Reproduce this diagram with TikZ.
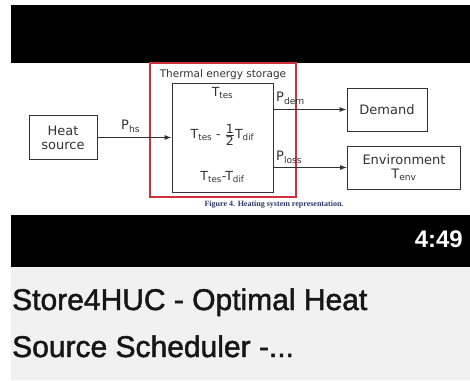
\documentclass[tikz,border=0pt]{standalone}
\usepackage{fontspec}
\setmainfont{DejaVu Sans}
\newfontfamily\titlefont{Liberation Sans}
\newfontfamily\titlemed{Liberation Sans}[FakeBold=1.6]
\newfontfamily\capfont{Liberation Serif}
\usetikzlibrary{arrows.meta}
\definecolor{ink}{HTML}{333333}
\definecolor{redbox}{HTML}{D0303A}
\definecolor{pagegray}{HTML}{F1F1F1}
\definecolor{captionblue}{HTML}{2B3A6B}
\definecolor{titleink}{HTML}{161616}
\tikzset{
  blockbox/.style={draw=ink, line width=0.9pt, rectangle, inner sep=0pt, align=center, text=ink, font=\fontsize{13}{15}\selectfont},
  flow/.style={draw=ink, line width=0.9pt, -{Latex[length=7pt,width=5pt]}},
  plabel/.style={text=ink, inner sep=0pt, font=\fontsize{13}{15}\selectfont},
  tlabel/.style={text=ink, inner sep=0pt, font=\fontsize{12.5}{15}\selectfont}
}
\begin{document}
\begin{tikzpicture}[x=1pt,y=-1pt]
\useasboundingbox (0,0) rectangle (470,380);
\fill[white] (0,0) rectangle (470,380);
\fill[pagegray] (11,267) rectangle (470,380);
\fill[black] (11,5) rectangle (470,63);
\fill[white] (11,63) rectangle (470,215);
\fill[black] (11,215) rectangle (470,267);

% red outline
\node[draw=redbox, line width=2pt, minimum width=146pt, minimum height=134pt, inner sep=0pt] (red) at (223,130) {};
\node[text=ink, inner sep=0pt, font=\fontsize{10.5}{12}\selectfont] (tesname) at (223,75) {Thermal energy storage};

% boxes
\node[blockbox, minimum width=68pt, minimum height=44pt] (hs) at (63,137.5) {Heat\\[-1pt]source};
\node[blockbox, minimum width=101pt, minimum height=109pt] (tes) at (222.5,137.5) {};
\node[blockbox, minimum width=80pt, minimum height=43pt] (dem) at (387,109.5) {Demand};
\node[blockbox, minimum width=113pt, minimum height=43pt] (env) at (404,167.5) {Environment\\[-1pt]T\textsubscript{env}};

% TES contents
\node[tlabel] (t1) at (222.5,93) {T\textsubscript{tes}};
\node[tlabel] (t2) at (222.5,135) {T\textsubscript{tes} - \ensuremath{\frac{\mbox{1}}{\mbox{2}}}T\textsubscript{dif}};
\node[tlabel] (t3) at (222.5,177) {T\textsubscript{tes}-T\textsubscript{dif}};

% flows
\draw[flow] (hs.east |- tes.center) -- (tes.west);
\draw[flow] (tes.east |- dem.center) -- (dem.west);
\draw[flow] (tes.east |- env.center) -- (env.west);

\node[plabel, anchor=south west] (phs) at (121,133) {P\textsubscript{hs}};
\node[plabel, anchor=south west] (pdem) at (276,105) {P\textsubscript{dem}};
\node[plabel, anchor=south west] (ploss) at (276,164) {P\textsubscript{loss}};

% caption
\node[text=captionblue, inner sep=0pt, font=\capfont\bfseries\fontsize{8}{9}\selectfont] (cap) at (274,205) {Figure 4. Heating system representation.};

% duration
\node[text=white, anchor=east, inner sep=0pt, font=\titlefont\bfseries\fontsize{24}{28}\selectfont] (dur) at (463,239) {4:49};

% title
\node[text=titleink, anchor=base west, inner sep=0pt, font=\titlemed\fontsize{30}{34}\selectfont] (title1) at (12,310) {Store4HUC - Optimal Heat};
\node[text=titleink, anchor=base west, inner sep=0pt, font=\titlemed\fontsize{30}{34}\selectfont] (title2) at (12,357) {Source Scheduler -...};
\end{tikzpicture}
\end{document}
